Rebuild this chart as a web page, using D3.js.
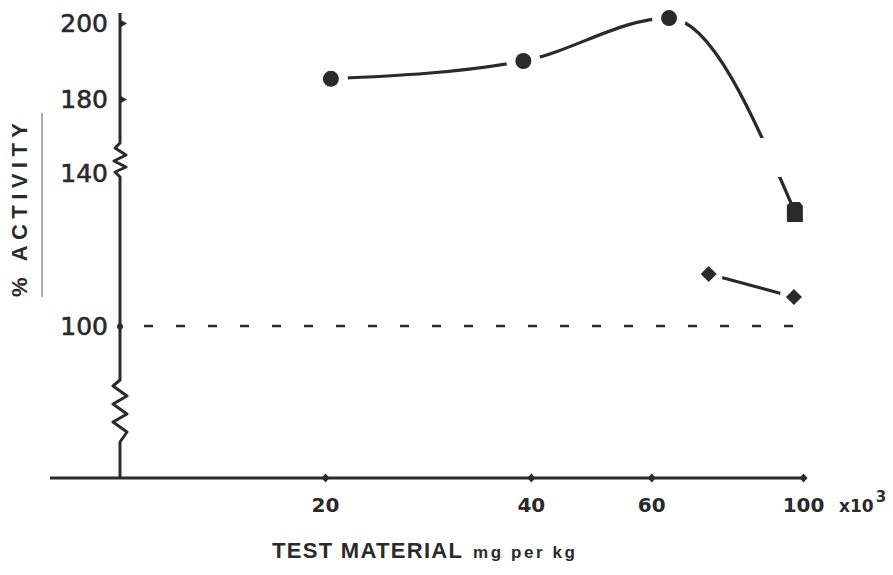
<!DOCTYPE html>
<html><head><meta charset="utf-8">
<script src="https://cdn.jsdelivr.net/npm/d3@7"></script>
<style>body{margin:0;background:#fff}</style>
</head><body>
<svg id="c" width="893" height="575" xmlns="http://www.w3.org/2000/svg"></svg>
<script>
// ---- data ----
const xTicks = [20, 40, 60, 100];
const yTicks = [100, 140, 180, 200];
const seriesA_x = [20.4, 39, 63.7, 97.3];
const seriesA_y = [185.3, 190, 201.3, 129.8];
const seriesA_shape = ["circle", "circle", "circle", "square"];
const seriesB_x = [72.8, 97];
const seriesB_y = [113.6, 107.6];
const refValue = 100;

// ---- layout ----
const svg = d3.select("#c");
const ink = "#2a2a2a";
const x = d3.scaleLog().domain([20, 100]).range([325, 803]);
const y = d3.scaleLinear().domain([100, 140, 180, 200]).range([326, 173, 99, 23]);
const axisX = 120, axisY = 478;

svg.append("rect").attr("width", 893).attr("height", 575).attr("fill", "#fff");

// mask for the axis break band (curve interrupted there)
const defs = svg.append("defs");
const mask = defs.append("mask").attr("id", "brk");
mask.append("rect").attr("width", 893).attr("height", 575).attr("fill", "#fff");
mask.append("rect").attr("x", 700).attr("y", 138).attr("width", 193).attr("height", 39).attr("fill", "#000");

// ---- x axis ----
svg.append("line").attr("x1", 50).attr("x2", 806).attr("y1", axisY).attr("y2", axisY)
  .attr("stroke", ink).attr("stroke-width", 3);
const gx = svg.append("g").attr("transform", `translate(0,${axisY})`)
  .call(d3.axisBottom(x).tickValues(xTicks).tickSize(0).tickPadding(20).tickFormat(d3.format("d")));
gx.select(".domain").remove();
gx.selectAll("text").attr("font-family", "DejaVu Sans").attr("font-weight", "bold")
  .attr("font-size", 20).attr("fill", ink);
gx.selectAll(".tick").append("path").attr("d", "M-4,0L0,-4.5L4,0L0,4.5Z").attr("fill", ink);
const expo = svg.append("text").attr("x", x(100) + 36).attr("y", 512)
  .attr("font-family", "DejaVu Sans").attr("font-weight", "bold").attr("font-size", 17).attr("fill", ink);
expo.append("tspan").text("x10");
expo.append("tspan").attr("dy", -10).attr("dx", 2).attr("font-size", 15).text("3");

// ---- y axis ----
const zz1 = [[120, 13], [120, 143], [115, 148], [126, 155], [114, 161], [126, 167], [115, 172], [120, 177]];
const zz2 = [[120, 380], [113, 386], [127, 396], [113, 404], [127, 414], [113, 422], [127, 432], [120, 442], [120, axisY]];
svg.append("path").attr("d", d3.line()(zz1.concat(zz2))).attr("fill", "none")
  .attr("stroke", ink).attr("stroke-width", 3).attr("stroke-linejoin", "round");
const gy = svg.append("g").attr("transform", `translate(${axisX},0)`)
  .call(d3.axisLeft(y).tickValues(yTicks).tickSize(0).tickPadding(12));
gy.select(".domain").remove();
gy.selectAll("text").attr("font-family", "DejaVu Sans").attr("font-size", 25).attr("fill", ink)
  .attr("stroke", ink).attr("stroke-width", 0.6);
gy.selectAll(".tick").filter(d => d >= 180).append("path").attr("d", "M0,-4L7,0L0,4Z").attr("fill", ink);
gy.selectAll(".tick").filter(d => d === 100).append("circle").attr("r", 3).attr("fill", ink);

// ---- reference line ----
svg.append("line").attr("x1", 144).attr("x2", 802).attr("y1", y(refValue)).attr("y2", y(refValue))
  .attr("stroke", ink).attr("stroke-width", 2.5).attr("stroke-dasharray", "9,23");

// ---- series ----
const ptsA = seriesA_x.map((v, i) => [x(v), y(seriesA_y[i])]);
const ptsB = seriesB_x.map((v, i) => [x(v), y(seriesB_y[i])]);
svg.append("path").attr("d", d3.line().curve(d3.curveMonotoneX)(ptsA)).attr("fill", "none")
  .attr("stroke", ink).attr("stroke-width", 3.2).attr("mask", "url(#brk)");
svg.append("path").attr("d", d3.line()(ptsB)).attr("fill", "none")
  .attr("stroke", ink).attr("stroke-width", 3.2);

// halos
ptsA.forEach((p, i) => {
  if (seriesA_shape[i] === "circle")
    svg.append("circle").attr("cx", p[0]).attr("cy", p[1]).attr("r", 17).attr("fill", "#fff");
});
ptsB.forEach(p => svg.append("circle").attr("cx", p[0]).attr("cy", p[1]).attr("r", 14).attr("fill", "#fff"));

// markers
ptsA.forEach((p, i) => {
  if (seriesA_shape[i] === "circle")
    svg.append("circle").attr("cx", p[0]).attr("cy", p[1]).attr("r", 8).attr("fill", ink);
  else
    svg.append("path").attr("transform", `translate(${p[0]},${p[1]})`)
      .attr("d", "M-8,-7L-4,-10L5,-10L8,-6L8,10L-8,10Z").attr("fill", ink);
});
ptsB.forEach(p => svg.append("path").attr("transform", `translate(${p[0]},${p[1]})`)
  .attr("d", "M0,-8L8,0L0,8L-8,0Z").attr("fill", ink));

// ---- titles ----
svg.append("text").attr("transform", "translate(27,210) rotate(-90)").attr("text-anchor", "middle")
  .attr("font-family", "Liberation Sans").attr("font-weight", "bold").attr("font-size", 22)
  .attr("fill", ink).attr("textLength", 174).attr("lengthAdjust", "spacing").text("% ACTIVITY");
svg.append("line").attr("x1", 42).attr("x2", 42).attr("y1", 113).attr("y2", 297)
  .attr("stroke", "#777").attr("stroke-width", 1.2);
svg.append("text").attr("x", 272).attr("y", 558)
  .attr("font-family", "Liberation Sans").attr("font-weight", "bold").attr("font-size", 22)
  .attr("fill", ink).attr("textLength", 190).attr("lengthAdjust", "spacing").text("TEST MATERIAL");
svg.append("text").attr("x", 473).attr("y", 558)
  .attr("font-family", "Liberation Sans").attr("font-weight", "bold").attr("font-size", 17)
  .attr("fill", ink).attr("textLength", 102).attr("lengthAdjust", "spacing").text("mg per kg");
</script>
</body></html>
